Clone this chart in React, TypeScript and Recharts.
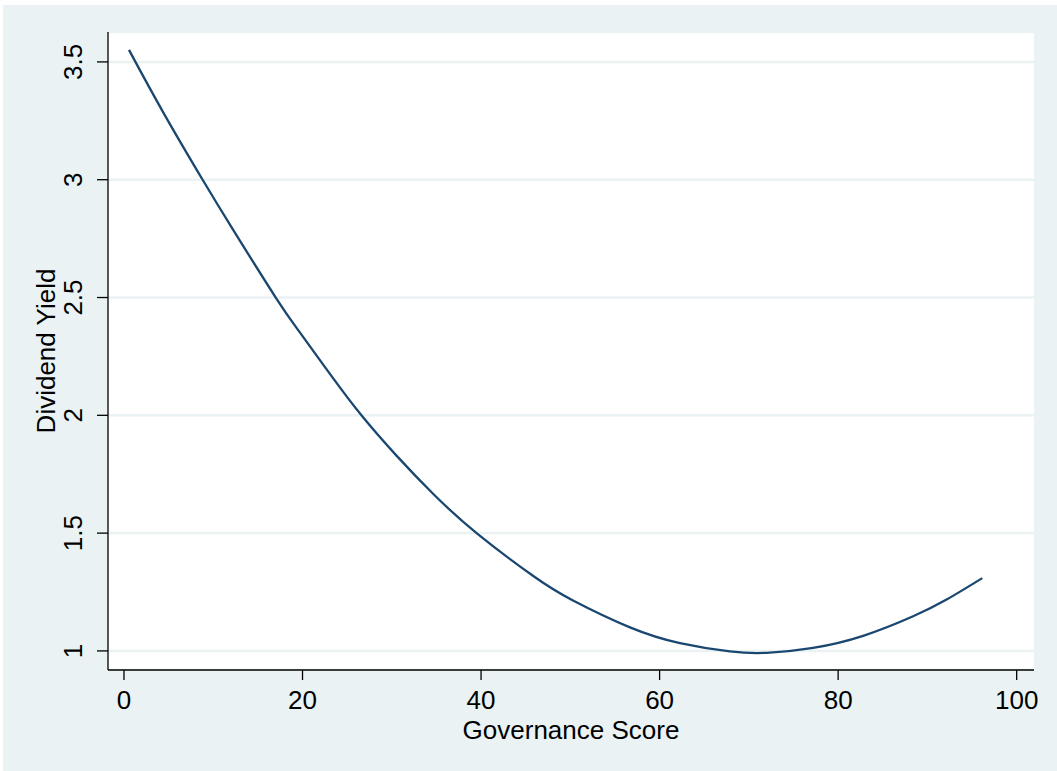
import React from "react";
import { LineChart, Line, XAxis, YAxis, CartesianGrid, Label } from "recharts";

// Fitted dividend yield across governance scores
const governanceScore = [
  0.56, 4.41, 8.81, 12.25, 17.0, 19.72, 23.07, 26.6, 30.5, 34.65, 39.5, 45.85,
  50.3, 56.68, 62.28, 67.88, 72.0, 77.2, 82.8, 88.4, 92.2, 96.15,
];
const dividendYield = [
  3.551, 3.285, 3.0, 2.786, 2.5, 2.351, 2.176, 2.0, 1.83, 1.666, 1.5, 1.318,
  1.214, 1.1, 1.033, 0.998, 0.992, 1.013, 1.064, 1.147, 1.219, 1.309,
];
const xTicks = [0, 20, 40, 60, 80, 100];
const yTicks = [1, 1.5, 2, 2.5, 3, 3.5];

const data = governanceScore.map((g, i) => ({ g, y: dividendYield[i] }));

const FONT = "Arial, 'Liberation Sans', Helvetica, sans-serif";
const BG = "#EAF2F3";
const NAVY = "#1A476F";
const FS = 26;

const YTick = (props: any) => {
  const { x, y, payload } = props;
  return (
    <text
      x={x}
      y={y}
      transform={`rotate(-90, ${x}, ${y})`}
      textAnchor="middle"
      fontSize={FS}
      fontFamily={FONT}
      fill="#000"
    >
      {payload.value}
    </text>
  );
};

const XTick = (props: any) => {
  const { x, y, payload } = props;
  return (
    <text x={x} y={y + 17} textAnchor="middle" fontSize={FS} fontFamily={FONT} fill="#000">
      {payload.value}
    </text>
  );
};

export default function App() {
  return (
    <div style={{ position: "absolute", left: 0, top: 0, width: 1057, height: 771, background: "#fff" }}>
      <div style={{ position: "absolute", left: 3, top: 5, width: 1054, height: 766, background: BG }} />
      <div style={{ position: "absolute", left: 0, top: 0 }}>
        <LineChart
          width={1057}
          height={771}
          data={data}
          margin={{ top: 32, right: 23, bottom: 41, left: 48 }}
        >
          <CartesianGrid
            vertical={false}
            horizontal={true}
            fill="#ffffff"
            stroke={BG}
            strokeWidth={2.5}
          />
          <XAxis
            dataKey="g"
            type="number"
            domain={[-1.79, 101.94]}
            ticks={xTicks}
            allowDataOverflow
            height={60}
            tickSize={10}
            tickMargin={12}
            stroke="#000"
            strokeWidth={1.3}
            tick={<XTick />}
            interval={0}
          >
            <Label
              content={(p: any) => {
                const vb = p.viewBox;
                return (
                  <text
                    x={vb.x + vb.width / 2}
                    y={vb.y + 68.5}
                    textAnchor="middle"
                    fontSize={FS}
                    fontFamily={FONT}
                    fill="#000"
                  >
                    Governance Score
                  </text>
                );
              }}
            />
          </XAxis>
          <YAxis
            type="number"
            domain={[0.919, 3.627]}
            ticks={yTicks}
            allowDataOverflow
            width={60}
            tickSize={11}
            tickMargin={15}
            stroke="#000"
            strokeWidth={1.3}
            tick={<YTick />}
            interval={0}
          >
            <Label
              content={(p: any) => {
                const vb = p.viewBox;
                const lx = vb.x + 7;
                const ly = vb.y + vb.height / 2;
                return (
                  <text
                    x={lx}
                    y={ly}
                    transform={`rotate(-90, ${lx}, ${ly})`}
                    textAnchor="middle"
                    fontSize={FS}
                    fontFamily={FONT}
                    fill="#000"
                  >
                    Dividend Yield
                  </text>
                );
              }}
            />
          </YAxis>
          <Line
            type="natural"
            dataKey="y"
            stroke={NAVY}
            strokeWidth={2.3}
            dot={false}
            isAnimationActive={false}
          />
        </LineChart>
      </div>
    </div>
  );
}
